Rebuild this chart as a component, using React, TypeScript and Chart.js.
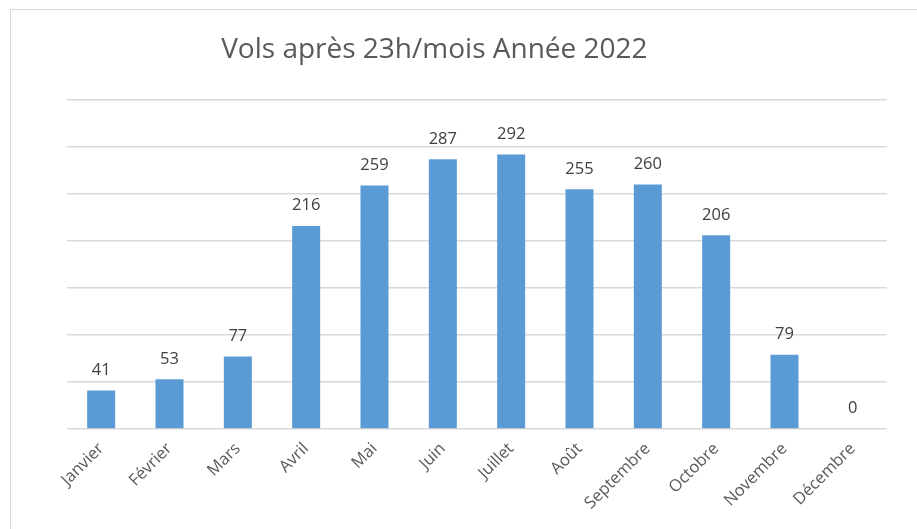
import React, { useEffect, useRef } from "react";
import { Chart, registerables } from "chart.js";

Chart.register(...registerables);

const categories = ["Janvier", "Février", "Mars", "Avril", "Mai", "Juin", "Juillet", "Août", "Septembre", "Octobre", "Novembre", "Décembre"];
const vols = [41, 53, 77, 216, 259, 287, 292, 255, 260, 206, 79, 0];
const titleText = "Vols après 23h/mois Année 2022";
const yMax = 350;
const yStep = 50;

const FONT = "'Open Sans', 'Noto Sans', sans-serif";

const valueLabels = {
  id: "valueLabels",
  afterDatasetsDraw(chart: any) {
    const ctx = chart.ctx;
    const meta = chart.getDatasetMeta(0);
    ctx.save();
    ctx.font = `16.5px ${FONT}`;
    ctx.fillStyle = "#404040";
    ctx.textAlign = "center";
    ctx.textBaseline = "bottom";
    meta.data.forEach((bar: any, i: number) => {
      ctx.fillText(String(vols[i]), bar.x, bar.y - 12);
    });
    ctx.restore();
  },
};

const customTitle = {
  id: "customTitle",
  afterDraw(chart: any) {
    const ctx = chart.ctx;
    const a = chart.chartArea;
    ctx.save();
    ctx.font = `400 28px ${FONT}`;
    ctx.fillStyle = "#595959";
    ctx.textAlign = "center";
    ctx.textBaseline = "middle";
    ctx.fillText(titleText, a.left + (a.right - a.left) * 0.448, 50);
    ctx.restore();
  },
};

export default function App() {
  const ref = useRef<HTMLCanvasElement>(null);
  useEffect(() => {
    document.body.style.margin = "0";
    document.body.style.overflow = "hidden";
    const chart = new Chart(ref.current!, {
      type: "bar",
      data: {
        labels: categories,
        datasets: [
          {
            data: vols,
            backgroundColor: "#5B9BD5",
            borderWidth: 0,
            categoryPercentage: 1,
            barPercentage: 0.41,
          },
        ],
      },
      options: {
        animation: false,
        responsive: false,
        layout: { padding: { left: 67, right: 30, top: 100, bottom: 0 } },
        plugins: { legend: { display: false }, title: { display: false }, tooltip: { enabled: false } },
        scales: {
          x: {
            grid: { display: false },
            border: { display: false },
            ticks: {
              color: "#595959",
              font: { family: FONT, size: 16.5 },
              minRotation: 45,
              maxRotation: 45,
              padding: 2,
            },
            afterFit: (scale: any) => {
              scale.height = 100;
            },
          },
          y: {
            min: 0,
            max: yMax,
            ticks: { display: false, stepSize: yStep },
            grid: { color: "#d9d9d9", lineWidth: 1.5, drawTicks: false },
            border: { display: false },
            afterFit: (scale: any) => {
              scale.width = 0;
            },
          },
        },
      },
      plugins: [valueLabels, customTitle],
    });
    return () => chart.destroy();
  }, []);
  return (
    <div style={{ position: "relative", width: 917, height: 529, overflow: "hidden", background: "#fff" }}>
      <div style={{ position: "absolute", left: 10, top: 9, width: 1000, height: 600, border: "1px solid #d9d9d9" }} />
      <canvas ref={ref} width={917} height={529} style={{ position: "absolute", left: 0, top: 0 }} />
    </div>
  );
}
